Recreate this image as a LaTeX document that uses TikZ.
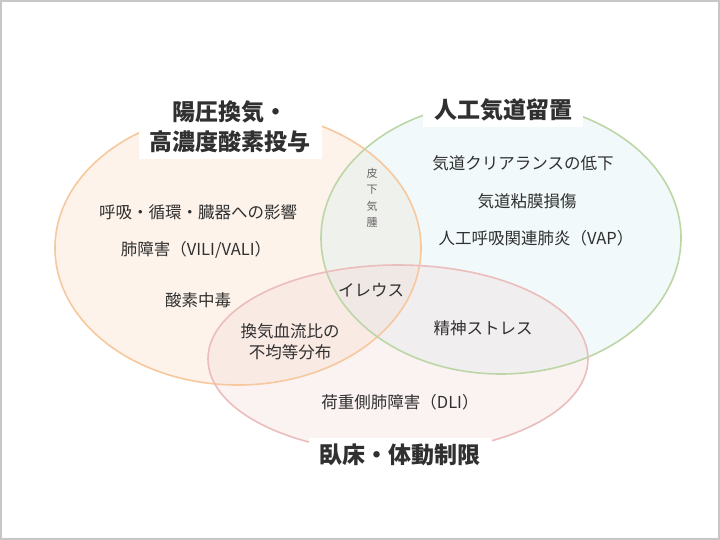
\documentclass[tikz,border=0pt]{standalone}
\usepackage{fontspec}
\setmainfont{Noto Sans CJK JP}
\definecolor{ostroke}{HTML}{F7C89E}
\definecolor{gstroke}{HTML}{BDD6A6}
\definecolor{pstroke}{HTML}{EBBDBD}
\definecolor{ofill}{HTML}{F9DCC2}
\definecolor{gfill}{HTML}{D4EDF2}
\definecolor{pfill}{HTML}{F3D3D3}
\definecolor{txt}{HTML}{303030}
\tikzset{
  body/.style={text=txt, font=\fontsize{16.5}{21}\selectfont, inner sep=0pt, align=center},
  title/.style={text=txt, font=\fontsize{23}{30}\selectfont\bfseries, fill=white, align=center, inner xsep=11pt, inner ysep=6pt},
  ring/.style={line width=1.6pt}
}
\begin{document}
\begin{tikzpicture}[x=1pt,y=-1pt]
\useasboundingbox (0,0) rectangle (720,540);
\fill[white] (0,0) rectangle (720,540);
\draw[black!22, line width=1.5pt] (1,1) rectangle (719,539);
% fills
\fill[ofill, fill opacity=0.32] (238,248) ellipse [x radius=183pt, y radius=137pt];
\fill[gfill, fill opacity=0.32] (501,238) ellipse [x radius=180pt, y radius=136pt];
\fill[pfill, fill opacity=0.28] (398,359) ellipse [x radius=190pt, y radius=94pt];
% outlines
\draw[ring, ostroke] (238,248) ellipse [x radius=183pt, y radius=137pt];
\draw[ring, gstroke] (501,238) ellipse [x radius=180pt, y radius=136pt];
\draw[ring, pstroke] (398,359) ellipse [x radius=190pt, y radius=94pt];
% body texts
\node[body] (t1) at (198,212) {呼吸・循環・臓器への影響};
\node[body] (t2) at (196,250) {肺障害（VILI/VALI）};
\node[body] (t3) at (198,300) {酸素中毒};
\node[body] (t4) at (523,163) {気道クリアランスの低下};
\node[body] (t5) at (527,201) {気道粘膜損傷};
\node[body] (t6) at (536,238) {人工呼吸関連肺炎（VAP）};
\node[text=black!60, font=\fontsize{11}{16.5}\selectfont, align=center, inner sep=0pt] (t7) at (372,198) {皮\\下\\気\\腫};
\node[body] (t8) at (371,290) {イレウス};
\node[body, font=\fontsize{16.5}{20.5}\selectfont] (t9) at (290,342) {換気血流比の\\不均等分布};
\node[body] (t10) at (483,328) {精神ストレス};
\node[body] (t11) at (400,402) {荷重側肺障害（DLI）};
% titles
\node[title] (h1) at (230,127) {陽圧換気・\\高濃度酸素投与};
\node[title] (h2) at (503,110) {人工気道留置};
\node[title] (h3) at (400,455) {臥床・体動制限};
\end{tikzpicture}
\end{document}
